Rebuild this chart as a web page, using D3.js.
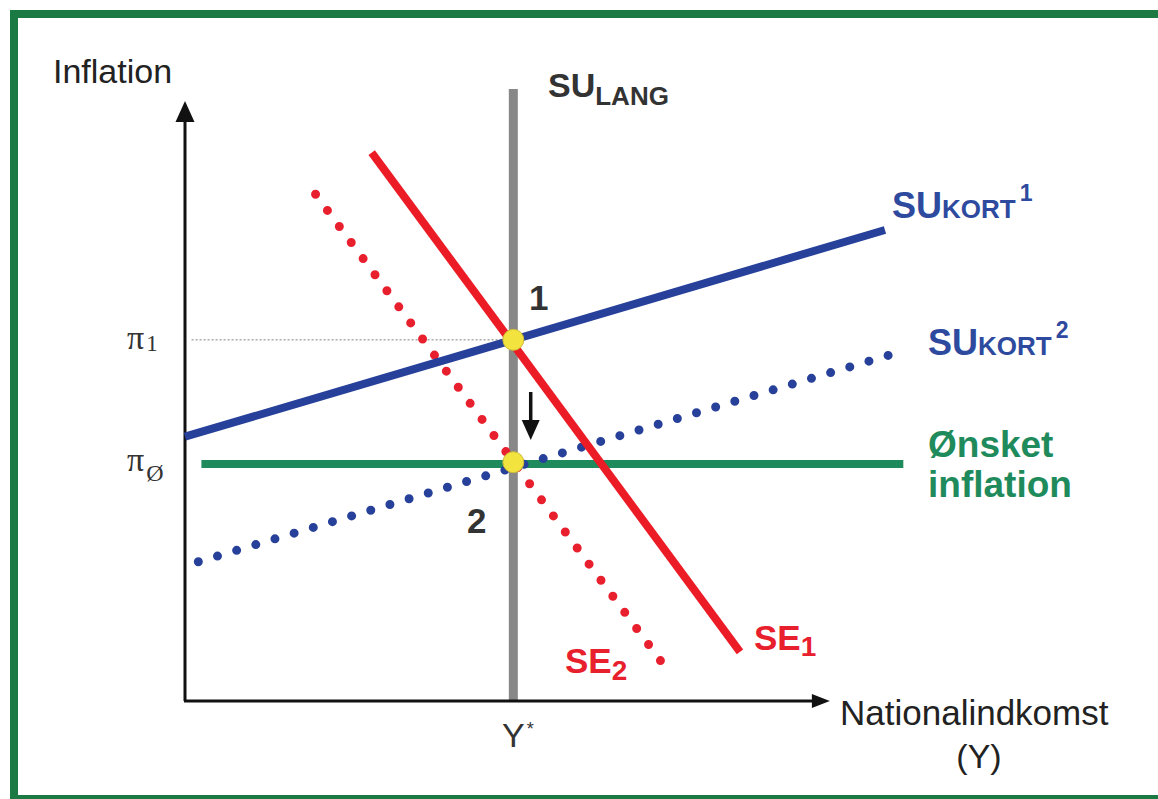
<!DOCTYPE html>
<html><head><meta charset="utf-8">
<script src="https://cdn.jsdelivr.net/npm/d3@7"></script>
<style>html,body{margin:0;padding:0;background:#fff;overflow:hidden}</style>
</head><body>
<svg id="chart" width="1158" height="799"></svg>
<script>
// ---- data (economic units: x = national income, y = inflation) ----
const yStar = 50;                 // Y*
const piOne = 60.2;               // π1
const piTarget = 39.8;            // πØ (ønsket inflation)
const suLang = [[50.05, 0], [50.05, 102]];
const suKort1 = [[0, 44.05], [106.7, 78.5]];
const suKort2 = [[2.03, 23.2], [107.5, 57.7]];
const se1 = [[28.46, 91.4], [84.6, 8.2]];
const se2 = [[19.9, 84.45], [72.7, 6.4]];
const onsket = [[2.5, 39.5], [109.5, 39.5]];
const piOneGuide = [[1.0, piOne], [50, piOne]];
const equilibria = [[50.05, piOne], [50.05, piTarget]];
const equilibriumLabels = ["1", "2"];
const shiftArrow = [[52.7, 51.5], [52.7, 43.5]];
const xAxisMax = 98.3, yAxisMax = 100;
const yTickValues = [piOne, piTarget];
const yTickLabels = ["π", "π"];
const yTickSubs = ["1", "Ø"];
const xTickValues = [yStar];
const xTickLabels = ["Y"];

const svg = d3.select("#chart");
const x = d3.scaleLinear().domain([0, 100]).range([185, 841]);
const y = d3.scaleLinear().domain([0, 100]).range([701, 101]);
const line = d3.line().x(d => x(d[0])).y(d => y(d[1]));

svg.append("rect").attr("x",0).attr("y",0).attr("width",1158).attr("height",799).attr("fill","#fff");
// frame
svg.append("rect").attr("x",14).attr("y",14).attr("width",1200).attr("height",785)
  .attr("fill","none").attr("stroke","#1b7a43").attr("stroke-width",8);

const RED = "#ec1c27", BLUE = "#27409a", GREEN = "#1f8b5c", GRAY = "#888888";

// guide line π1
svg.append("path").attr("d", line(piOneGuide)).attr("fill","none")
  .attr("stroke","#aaa").attr("stroke-width",1.5).attr("stroke-dasharray","2 2");

// SU lang
svg.append("path").attr("d", line(suLang)).attr("stroke",GRAY).attr("stroke-width",9).attr("fill","none");

// axes
svg.append("line").attr("x1",x(0)).attr("y1",y(0)).attr("x2",x(0)).attr("y2",y(yAxisMax)+18)
  .attr("stroke","#111").attr("stroke-width",3);
svg.append("line").attr("x1",x(0)-1).attr("y1",y(0)).attr("x2",x(xAxisMax)-14).attr("y2",y(0))
  .attr("stroke","#111").attr("stroke-width",3);
{
  const tx = x(0), ty = y(yAxisMax);
  svg.append("polygon").attr("points",`${tx},${ty} ${tx-9.5},${ty+21} ${tx+9.5},${ty+21}`).attr("fill","#111");
  const ax = x(xAxisMax), ay = y(0);
  svg.append("polygon").attr("points",`${ax},${ay} ${ax-18},${ay-7} ${ax-18},${ay+7}`).attr("fill","#111");
}

// ønsket inflation
svg.append("path").attr("d", line(onsket)).attr("stroke",GREEN).attr("stroke-width",8).attr("fill","none");

// dotted curves
svg.append("path").attr("d", line(suKort2)).attr("stroke",BLUE).attr("stroke-width",9)
  .attr("stroke-linecap","round").attr("stroke-dasharray","0 20").attr("fill","none");
svg.append("path").attr("d", line(se2)).attr("stroke","#e8202e").attr("stroke-width",9)
  .attr("stroke-linecap","round").attr("stroke-dasharray","0 20").attr("fill","none");

// solid curves
svg.append("path").attr("d", line(suKort1)).attr("stroke",BLUE).attr("stroke-width",8).attr("fill","none");
svg.append("path").attr("d", line(se1)).attr("stroke",RED).attr("stroke-width",8).attr("fill","none");

// equilibrium points
svg.selectAll("circle.eq").data(equilibria).enter().append("circle").attr("class","eq")
  .attr("cx",d=>x(d[0])).attr("cy",d=>y(d[1])).attr("r",10.5)
  .attr("fill","#f3e33f").attr("stroke","#cbbb3a").attr("stroke-width",1);

// shift arrow
{
  const x0 = x(shiftArrow[0][0]), y0 = y(shiftArrow[0][1]), y1 = y(shiftArrow[1][1]);
  svg.append("line").attr("x1",x0).attr("y1",y0).attr("x2",x0).attr("y2",y1-14)
    .attr("stroke","#111").attr("stroke-width",3.5);
  svg.append("polygon").attr("points",`${x0},${y1} ${x0-9},${y1-20} ${x0+9},${y1-20}`).attr("fill","#111");
}

const SANS = "'Liberation Sans', Arial, sans-serif";
const SERIF = "'Liberation Serif', 'Times New Roman', serif";

// axis titles
svg.append("text").attr("x",53).attr("y",83).attr("font-family",SANS).attr("font-size",34)
  .attr("fill","#222").text("Inflation");
svg.append("text").attr("x",840).attr("y",725).attr("font-family",SANS).attr("font-size",35)
  .attr("fill","#222").text("Nationalindkomst");
svg.append("text").attr("x",979).attr("y",768).attr("text-anchor","middle").attr("font-family",SANS)
  .attr("font-size",34).attr("fill","#222").text("(Y)");

// y tick labels
const subDy = [2, 10], subSize = [23, 24];
yTickValues.forEach((v, i) => {
  const t = svg.append("text").attr("x",x(0)-58).attr("y",y(v)+9).attr("font-family",SERIF)
    .attr("font-size",34).attr("fill","#333");
  t.append("tspan").text(yTickLabels[i]);
  t.append("tspan").attr("dx",2).attr("dy",subDy[i]).attr("font-size",subSize[i]).text(yTickSubs[i]);
});
// x tick label
xTickValues.forEach((v, i) => {
  const t = svg.append("text").attr("x",x(v)-11).attr("y",747).attr("font-family",SANS)
    .attr("font-size",34).attr("fill","#333");
  t.append("tspan").text(xTickLabels[i]);
  t.append("tspan").attr("dx",2).attr("dy",-12).attr("font-size",18).text("*");
});

// curve labels
function label(xp, yp, main, sub, subDy, mainSize, subSizeV, color, sup) {
  const t = svg.append("text").attr("x",xp).attr("y",yp).attr("font-family",SANS)
    .attr("font-weight","bold").attr("font-size",mainSize).attr("fill",color);
  t.append("tspan").text(main);
  t.append("tspan").attr("dy",subDy).attr("font-size",subSizeV).text(sub);
  if (sup) t.append("tspan").attr("dx",4).attr("dy",-17-subDy).attr("font-size",23).text(sup);
  return t;
}
label(548, 97, "SU", "LANG", 8, 34, 26, "#333");
label(892, 218, "SU", "KORT", 0, 36, 26, "#2e4a9e", "1");
label(928, 355, "SU", "KORT", 0, 36, 26, "#2e4a9e", "2");
label(754, 650, "SE", "1", 6, 35, 28, "#e8202e");
label(565, 673, "SE", "2", 7, 35, 28, "#e8202e");

svg.append("text").attr("x",928).attr("y",457).attr("font-family",SANS).attr("font-weight","bold")
  .attr("font-size",37).attr("fill",GREEN).text("Ønsket");
svg.append("text").attr("x",928).attr("y",497).attr("font-family",SANS).attr("font-weight","bold")
  .attr("font-size",37).attr("fill",GREEN).text("inflation");

// equilibrium numbers
const eqLabelPos = [[529, 310], [467, 533]];
equilibriumLabels.forEach((l, i) => {
  svg.append("text").attr("x",eqLabelPos[i][0]).attr("y",eqLabelPos[i][1]).attr("font-family",SANS)
    .attr("font-weight","bold").attr("font-size",35).attr("fill","#333").text(l);
});
</script>
</body></html>
